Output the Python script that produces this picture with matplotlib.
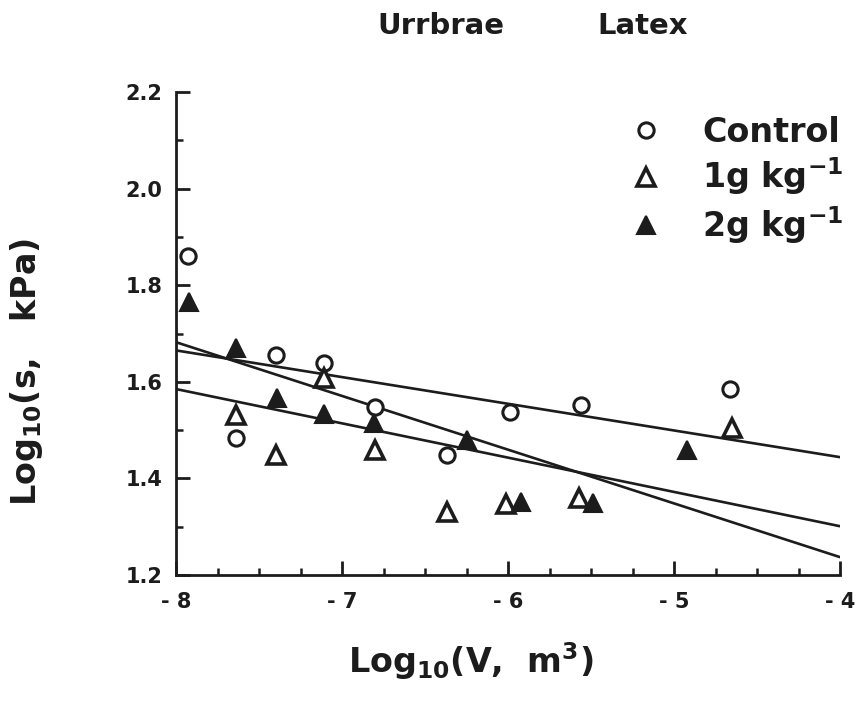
import matplotlib
matplotlib.use("Agg")
import matplotlib.pyplot as plt
from matplotlib.ticker import MultipleLocator

# data (log10 V, log10 s)
control_x = [-7.93, -7.64, -7.40, -7.11, -6.80, -6.37, -5.99, -5.56, -4.66]
control_y = [1.860, 1.484, 1.655, 1.639, 1.548, 1.448, 1.537, 1.552, 1.585]

g1_x = [-7.64, -7.40, -7.11, -6.80, -6.37, -6.01, -5.57, -4.65]
g1_y = [1.531, 1.448, 1.608, 1.459, 1.330, 1.347, 1.359, 1.504]

g2_x = [-7.92, -7.64, -7.39, -7.11, -6.81, -6.25, -5.92, -5.49, -4.92]
g2_y = [1.765, 1.670, 1.566, 1.533, 1.514, 1.480, 1.351, 1.349, 1.459]

# regression lines, y at the two ends of the x range
fit_x = [-8, -4]
fit_control = [1.665, 1.444]
fit_1g = [1.585, 1.301]
fit_2g = [1.682, 1.237]

xticks = [-8, -7, -6, -5, -4]
xtick_labels = ['- 8', '- 7', '- 6', '- 5', '- 4']
yticks = [1.2, 1.4, 1.6, 1.8, 2.0, 2.2]
ytick_labels = ['1.2', '1.4', '1.6', '1.8', '2.0', '2.2']

ink = '#1c1c1c'
plt.rcParams['font.family'] = ['DejaVu Sans']
plt.rcParams['font.weight'] = 'bold'
plt.rcParams['mathtext.default'] = 'bf'
plt.rcParams['text.color'] = ink

fig = plt.figure(figsize=(8.59, 7.03), dpi=100)
ax = fig.add_axes([176/859, 1-575/703, (840-176)/859, (575-92)/703])

for yy in (fit_control, fit_1g, fit_2g):
    ax.plot(fit_x, yy, color=ink, lw=1.9, zorder=2, solid_capstyle='round')

h0, = ax.plot(control_x, control_y, 'o', ms=11, mfc='white', mec=ink, mew=2.2,
              zorder=3, label='Control')
h1, = ax.plot(g1_x, g1_y, '^', ms=13, mfc='white', mec=ink, mew=2.6,
              zorder=4, label='1g kg$^{-1}$')
h2, = ax.plot(g2_x, g2_y, '^', ms=13, mfc=ink, mec=ink, mew=1.5,
              zorder=5, label='2g kg$^{-1}$')

ax.set_xlim(-8, -4)
ax.set_ylim(1.2, 2.2)
ax.spines['top'].set_visible(False)
ax.spines['right'].set_visible(False)
for s in ('left', 'bottom'):
    ax.spines[s].set_linewidth(2.0)
    ax.spines[s].set_color(ink)

ax.set_xticks(xticks)
ax.set_xticklabels(xtick_labels)
ax.set_yticks(yticks)
ax.set_yticklabels(ytick_labels)
ax.xaxis.set_minor_locator(MultipleLocator(0.25))
ax.yaxis.set_minor_locator(MultipleLocator(0.1))
ax.tick_params(which='major', direction='in', length=10, width=2, color=ink,
               labelsize=15, labelcolor=ink)
ax.tick_params(which='minor', direction='in', length=5, width=1.8, color=ink)
ax.tick_params(axis='x', which='major', pad=12)
ax.tick_params(axis='y', which='major', pad=10)
for lab in ax.get_xticklabels() + ax.get_yticklabels():
    lab.set_fontweight('bold')

leg = ax.legend(handles=[h0, h1, h2], loc='upper left',
                bbox_to_anchor=(629/859, 1-116/703), bbox_transform=fig.transFigure,
                frameon=False, fontsize=24, handlelength=1.0, handletextpad=1.2,
                labelspacing=0.2, borderpad=0, borderaxespad=0)
for t in leg.get_texts():
    t.set_fontweight('bold')

# titles and axis labels
fig.text(441/859, 1-26/703, 'Urrbrae', ha='center', va='center',
         fontsize=21, fontweight='bold')
fig.text(643/859, 1-26/703, 'Latex', ha='center', va='center',
         fontsize=21, fontweight='bold')
fig.text(471/859, 1-673/703, 'Log$_{10}$(V,  m$^3$)', ha='center', va='baseline',
         fontsize=24, fontweight='bold')
fig.text(27/859, 1-372/703, 'Log$_{10}$(s,   kPa)', ha='center', va='center',
         rotation=90, fontsize=24, fontweight='bold')

fig.savefig('out.png', dpi=100)
